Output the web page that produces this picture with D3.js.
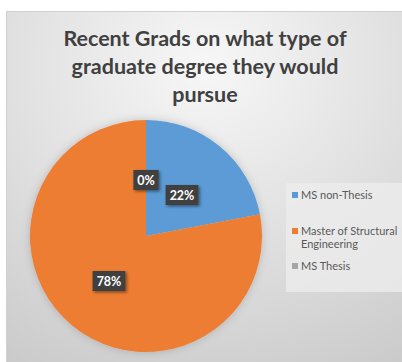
<!DOCTYPE html>
<html>
<head>
<meta charset="utf-8">
<script src="https://cdn.jsdelivr.net/npm/d3@7"></script>
<style>
  body { margin: 0; background: #fff; }
  svg { display: block; }
</style>
</head>
<body>
<svg id="chart" width="402" height="362"></svg>
<script>
// data
var categories = ["MS non-Thesis", "Master of Structural Engineering", "MS Thesis"];
var values = [22, 78, 0];
var colors = ["#5b9bd5", "#ed7d31", "#a5a5a5"];
var titleLines = ["Recent Grads on what type of", "graduate degree they would", "pursue"];
var legendLines = [["MS non-Thesis"], ["Master of Structural", "Engineering"], ["MS Thesis"]];

var font = "Lato, 'Open Sans', sans-serif";
var svg = d3.select("#chart");
var defs = svg.append("defs");

var bg = defs.append("radialGradient")
    .attr("id", "bg")
    .attr("cx", "0.5").attr("cy", "0.15").attr("r", "0.95");
bg.append("stop").attr("offset", "0").attr("stop-color", "#f7f7f7");
bg.append("stop").attr("offset", "1").attr("stop-color", "#cbcbcb");

var sh = defs.append("filter").attr("id", "shadow")
    .attr("x", "-30%").attr("y", "-30%").attr("width", "160%").attr("height", "160%");
sh.append("feDropShadow").attr("dx", 1.5).attr("dy", 1.5)
    .attr("stdDeviation", 1.5).attr("flood-color", "#000").attr("flood-opacity", 0.45);

var glow = defs.append("filter").attr("id", "glow")
    .attr("x", "-20%").attr("y", "-20%").attr("width", "140%").attr("height", "140%");
glow.append("feDropShadow").attr("dx", 0).attr("dy", 0)
    .attr("stdDeviation", 4).attr("flood-color", "#000").attr("flood-opacity", 0.18);

// frame
svg.append("rect")
    .attr("x", 6.5).attr("y", 11.5)
    .attr("width", 400).attr("height", 360)
    .attr("fill", "url(#bg)")
    .attr("stroke", "#d0d0d0");

// title
svg.append("g").selectAll("text")
    .data(titleLines)
    .join("text")
    .attr("x", 205)
    .attr("y", function (d, i) { return 45.5 + i * 28; })
    .attr("text-anchor", "middle")
    .attr("font-family", font)
    .attr("font-weight", "bold")
    .attr("font-size", 21.5)
    .attr("fill", "#404040")
    .text(function (d) { return d; });

// pie
var cx = 146, cy = 236, radius = 116;
var pie = d3.pie().sort(null).value(function (d) { return d; });
var arc = d3.arc().innerRadius(0).outerRadius(radius);
var arcs = pie(values);

var g = svg.append("g").attr("transform", "translate(" + cx + "," + cy + ")");
g.append("g").attr("filter", "url(#glow)")
    .selectAll("path")
    .data(arcs)
    .join("path")
    .attr("d", arc)
    .attr("fill", function (d, i) { return colors[i]; });

// data labels
var labelPos = [[36, -41], [-37, 45], [0, -56]];
var total = d3.sum(values);
var lab = g.selectAll("g.lab")
    .data(arcs)
    .join("g")
    .attr("class", "lab")
    .attr("transform", function (d, i) { return "translate(" + labelPos[i][0] + "," + labelPos[i][1] + ")"; });

lab.each(function (d) {
    var s = d3.select(this);
    var txt = Math.round(d.data / total * 100) + "%";
    var w = txt.length * 7.6 + 10;
    s.append("rect")
        .attr("x", -w / 2).attr("y", -10)
        .attr("width", w).attr("height", 20)
        .attr("fill", "#404040")
        .attr("filter", "url(#shadow)");
    s.append("text")
        .attr("y", 4.5)
        .attr("text-anchor", "middle")
        .attr("font-family", font)
        .attr("font-weight", "bold")
        .attr("font-size", 12.5)
        .attr("fill", "#fff")
        .text(txt);
});

// legend
svg.append("rect")
    .attr("x", 286).attr("y", 183)
    .attr("width", 120).attr("height", 109)
    .attr("fill", "#ececec").attr("fill-opacity", 0.8);

var legendY = [196, 232, 267];
var leg = svg.append("g").selectAll("g")
    .data(categories)
    .join("g")
    .attr("transform", function (d, i) { return "translate(292," + legendY[i] + ")"; });
leg.append("rect")
    .attr("x", 0).attr("y", -4).attr("width", 6).attr("height", 6)
    .attr("fill", function (d, i) { return colors[i]; });
leg.each(function (d, i) {
    d3.select(this).selectAll("text")
        .data(legendLines[i])
        .join("text")
        .attr("x", 9)
        .attr("y", function (t, j) { return 3 + j * 13; })
        .attr("font-family", font)
        .attr("font-size", 11)
        .attr("fill", "#595959")
        .text(function (t) { return t; });
});
</script>
</body>
</html>
